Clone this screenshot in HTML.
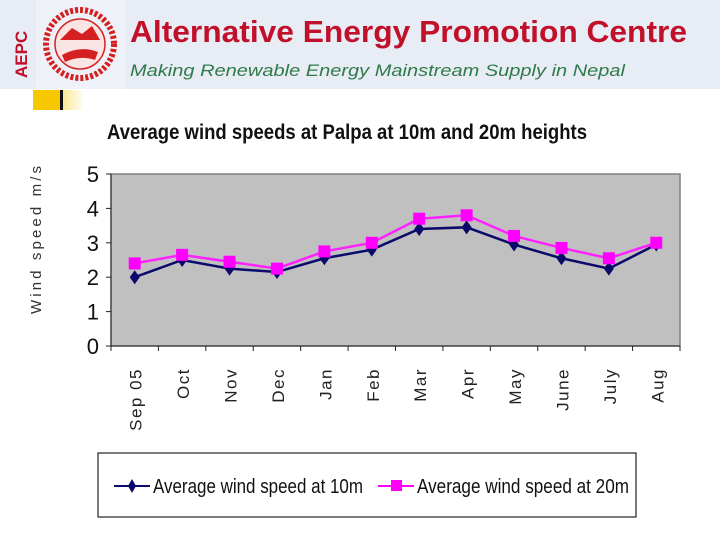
<!DOCTYPE html>
<html><head><meta charset="utf-8"><style>
body{margin:0;background:#fff;width:720px;height:540px;overflow:hidden}
svg{display:block;font-family:"Liberation Sans",Arial,sans-serif}
</style></head><body>
<svg width="720" height="540" viewBox="0 0 720 540">
<defs><linearGradient id="yg" x1="0" x2="1"><stop offset="0" stop-color="#f6c800"/><stop offset="1" stop-color="#fff"/></linearGradient></defs>
<rect x="0" y="0" width="720" height="89" fill="#e8ecf5"/>
<text x="0" y="0" transform="translate(27,78) rotate(-90)" font-size="17" font-weight="bold" fill="#c0102a">AEPC</text>
<rect x="37" y="1" width="87" height="87" fill="#eef1f8" stroke="#f4f6fb"/>
<g>
<circle cx="80" cy="44" r="34" fill="none" stroke="#d42020" stroke-width="6" stroke-dasharray="3 2"/>
<circle cx="80" cy="44" r="25" fill="#fbe4e4" stroke="#d42020" stroke-width="1.5"/>
<path d="M60 40 L72 28 L82 34 L92 26 L100 40 Z M62 55 Q80 45 98 52 L95 60 Q80 55 65 62 Z" fill="#d42020"/>
</g>
<text x="130" y="42" font-size="31" font-weight="bold" fill="#c0102a" textLength="557" lengthAdjust="spacingAndGlyphs">Alternative Energy Promotion Centre</text>
<text x="130" y="76" font-size="17" font-style="italic" fill="#2f7a4a" textLength="495" lengthAdjust="spacingAndGlyphs">Making Renewable Energy Mainstream Supply in Nepal</text>
<rect x="33" y="90" width="52" height="20" fill="url(#yg)"/>
<rect x="33" y="90" width="27" height="20" fill="#f6c800"/>
<rect x="60" y="90" width="3" height="20" fill="#111"/>
<text x="107" y="139" font-size="21" font-weight="bold" fill="#111" textLength="480" lengthAdjust="spacingAndGlyphs">Average wind speeds at Palpa at 10m and 20m heights</text>
<text transform="translate(41,240) rotate(-90)" text-anchor="middle" font-size="15" fill="#333" textLength="148">Wind speed m/s</text>
<g id="chart"></g>
<rect x="98" y="453" width="538" height="64" fill="#fff" stroke="#222" stroke-width="1.2"/>
<g>
<line x1="114" y1="486" x2="150" y2="486" stroke="#0a0a6a" stroke-width="2"/>
<path d="M132 479 L136 486 L132 493 L128 486 Z" fill="#0a0a6a"/>
<text x="153" y="493" font-size="20" fill="#111" textLength="210" lengthAdjust="spacingAndGlyphs">Average wind speed at 10m</text>
</g>
<g>
<line x1="378" y1="486" x2="414" y2="486" stroke="#ff00ff" stroke-width="2"/>
<rect x="391" y="480" width="11" height="11" fill="#ff00ff"/>
<text x="417" y="493" font-size="20" fill="#111" textLength="212" lengthAdjust="spacingAndGlyphs">Average wind speed at 20m</text>
</g>
</svg>
<script>
const categories=["Sep 05","Oct","Nov","Dec","Jan","Feb","Mar","Apr","May","June","July","Aug"];
const series10m=[2.0,2.5,2.25,2.15,2.55,2.8,3.4,3.45,2.95,2.55,2.25,2.95];
const series20m=[2.4,2.65,2.45,2.25,2.75,3.0,3.7,3.8,3.2,2.85,2.55,3.0];
const yTicks=[0,1,2,3,4,5];
const NS="http://www.w3.org/2000/svg";
const L=111,R=680,T=174,B=346,yMax=5;
const step=(R-L)/categories.length;
const xs=i=>L+step*(i+0.5);
const ys=v=>B-(v/yMax)*(B-T);
const g=document.getElementById('chart');
function mk(t,a){const e=document.createElementNS(NS,t);for(const k in a)e.setAttribute(k,a[k]);g.appendChild(e);return e;}
let e=mk('rect',{x:L,y:T,width:R-L,height:B-T,fill:'#c0c0c0',stroke:'#808080','stroke-width':1.5});


e=mk('line',{x1:L,y1:T,x2:L,y2:B,stroke:'#222','stroke-width':1});


e=mk('line',{x1:L,y1:B,x2:R,y2:B,stroke:'#222','stroke-width':1});


yTicks.forEach(v=>{
  mk('line',{x1:L-5,y1:ys(v),x2:L,y2:ys(v),stroke:'#222'});
  const t=mk('text',{x:L-12,y:ys(v)+8,'text-anchor':'end','font-size':22,fill:'#111'});
  t.textContent=v;
  
  
});
for(let i=0;i<=categories.length;i++){mk('line',{x1:L+step*i,y1:B,x2:L+step*i,y2:B+5,stroke:'#222'});}
categories.forEach((c,i)=>{
  const t=mk('text',{transform:`translate(${xs(i)+7},${B+22}) rotate(-90)`,'text-anchor':'end','font-size':17,'letter-spacing':1.5,fill:'#222'});
  t.textContent=c;
  
  
});
function line(data,color,name){
  const p=mk('polyline',{points:data.map((v,i)=>xs(i)+','+ys(v)).join(' '),fill:'none',stroke:color,'stroke-width':2.5});
  
  
}
line(series10m,'#0a0a6a','series-10m');
line(series20m,'#ff22ff','series-20m');
series10m.forEach((v,i)=>{
  const x=xs(i),y=ys(v);
  const m=mk('path',{d:`M${x} ${y-7}L${x+5} ${y}L${x} ${y+7}L${x-5} ${y}Z`,fill:'#0a0a6a'});
  
  
});
series20m.forEach((v,i)=>{
  const m=mk('rect',{x:xs(i)-6,y:ys(v)-6,width:12,height:12,fill:'#ff00ff'});
  
  
});
</script>
</body></html>
